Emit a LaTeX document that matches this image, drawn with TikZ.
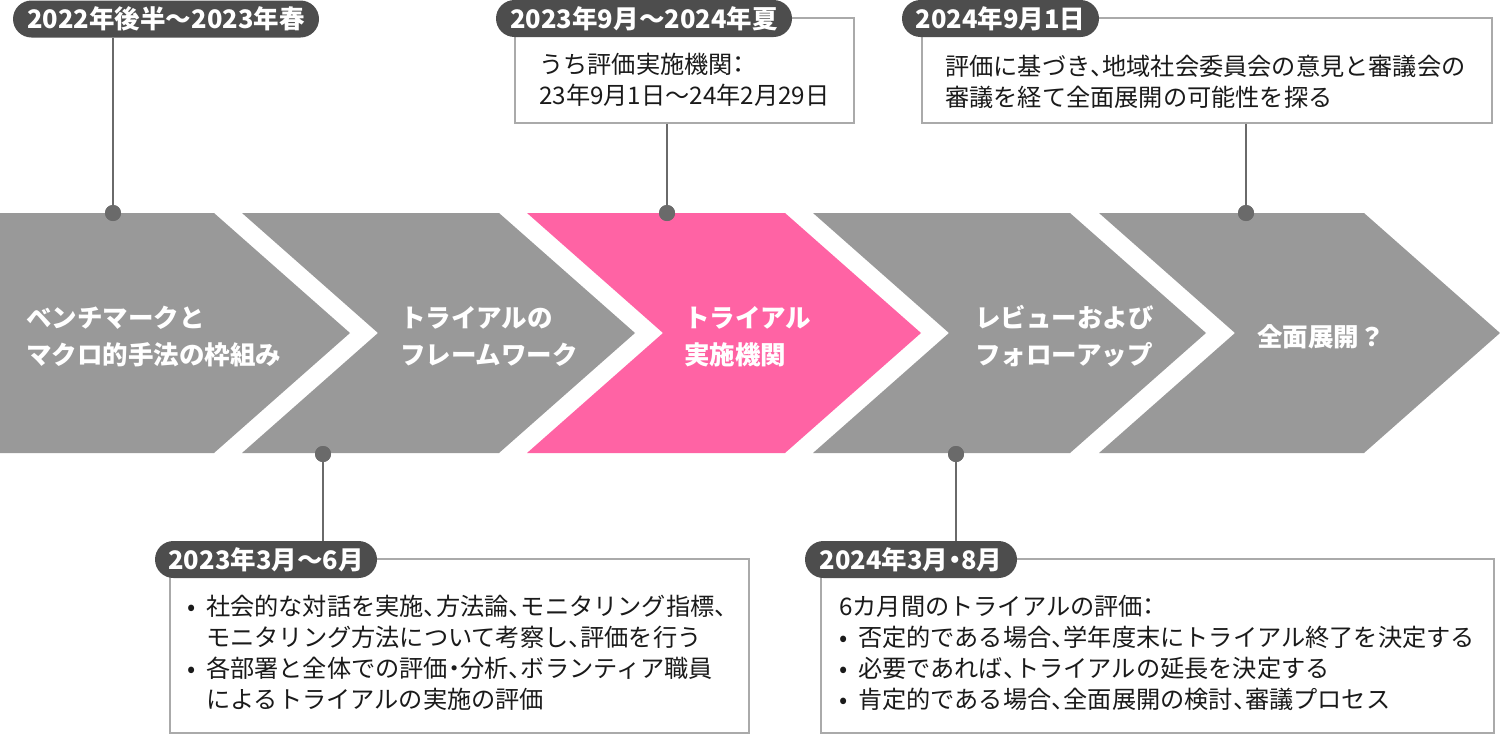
\documentclass[tikz,border=0pt]{standalone}
\usepackage{fontspec}
\setmainfont{Noto Sans CJK JP}
\newfontfamily\myHalt{Noto Sans CJK JP}[RawFeature=+halt]
\definecolor{chevgray}{HTML}{999999}
\definecolor{chevpink}{HTML}{FF63A4}
\definecolor{pilldark}{HTML}{4D4D4D}
\definecolor{dotgray}{HTML}{6A6A6A}
\definecolor{boxgray}{HTML}{AAAAAA}
\definecolor{textblack}{HTML}{1A1A1A}
\newcommand\myPillFont{\fontsize{25.5}{30}\selectfont\bfseries}
\newcommand\myBoxFont{\fontsize{24.2}{31}\selectfont}
\newcommand\myChevFont{\fontsize{25.5}{37}\selectfont\bfseries}
\newcommand\myBul{\makebox[19pt][l]{•}}
\newcommand\myInd{\hspace*{19pt}}
\newcommand\myTen{{\myHalt 、}}
\newcommand\myDot{{\myHalt ・}}
\newcommand\myCol{{\myHalt ：}}
\tikzset{
  chev/.style={fill=chevgray},
  chevhl/.style={fill=chevpink},
  dotnode/.style={circle, fill=dotgray, minimum size=16pt, inner sep=0pt},
  conn/.style={draw=dotgray, line width=2.2pt},
  pill/.style={fill=pilldark, rounded corners=18.5pt, minimum height=37pt, text=white, font=\myPillFont, inner sep=0pt},
  infobox/.style={draw=boxgray, line width=1.2pt, fill=white, inner sep=0pt},
  boxtext/.style={anchor=west, align=left, inner sep=0pt, font=\myBoxFont, text=textblack},
  chevtext/.style={anchor=west, align=left, inner sep=0pt, font=\myChevFont, text=white},
}
\begin{document}
\begin{tikzpicture}[x=1pt, y=-1pt]
\useasboundingbox (0,0) rectangle (1500,734);
% chevrons
\fill[chev] (0,213) -- (214,213) -- (350,333) -- (214,453) -- (0,453) -- cycle;
\fill[chev] (242,213) -- (499,213) -- (635,333) -- (499,453) -- (242,453) -- (378,333) -- cycle;
\fill[chevhl] (527,213) -- (785,213) -- (921,333) -- (785,453) -- (527,453) -- (663,333) -- cycle;
\fill[chev] (813,213) -- (1070,213) -- (1206,333) -- (1070,453) -- (813,453) -- (949,333) -- cycle;
\fill[chev] (1099,213) -- (1364,213) -- (1500,333) -- (1364,453) -- (1099,453) -- (1235,333) -- cycle;
% chevron texts
\node[chevtext] (t1) at (26,336.5) {ベンチマークと\\マクロ的手法の枠組み};
\node[chevtext] (t2) at (400,336.5) {トライアルの\\フレームワーク};
\node[chevtext] (t3) at (684,336.5) {トライアル\\実施機関};
\node[chevtext] (t4) at (975,336.5) {レビューおよび\\フォローアップ};
\node[chevtext] (t5) at (1257,337) {全面展開？};
% info boxes
\node[infobox, minimum width=339pt, minimum height=105pt] (b2) at (684.5,70.5) {};
\node[infobox, minimum width=570pt, minimum height=105pt] (b3) at (1207,70.5) {};
\node[infobox, minimum width=579pt, minimum height=174pt] (b4) at (459.5,646) {};
\node[infobox, minimum width=673pt, minimum height=174pt] (b5) at (1157.5,646) {};
\node[boxtext] (x2) at (539,80) {うち評価実施機関\myCol\\23年9月1日～24年2月29日};
\node[boxtext] (x3) at (945,82) {評価に基づき\myTen 地域社会委員会の意見と審議会の\\審議を経て全面展開の可能性を探る};
\node[boxtext] (x4) at (187,653) {\myBul 社会的な対話を実施\myTen 方法論\myTen モニタリング指標\myTen\\\myInd モニタリング方法について考察し\myTen 評価を行う\\\myBul 各部署と全体での評価\myDot 分析\myTen ボランティア職員\\\myInd によるトライアルの実施の評価};
\node[boxtext] (x5) at (839,652.5) {6カ月間のトライアルの評価\myCol\\\myBul 否定的である場合\myTen 学年度末にトライアル終了を決定する\\\myBul 必要であれば\myTen トライアルの延長を決定する\\\myBul 肯定的である場合\myTen 全面展開の検討\myTen 審議プロセス};
% pills
\node[pill, minimum width=306pt] (p1) at (166,19) {2022年後半～2023年春};
\node[pill, minimum width=296pt] (p2) at (644,18.5) {2023年9月～2024年夏};
\node[pill, minimum width=197pt] (p3) at (1000.5,18.5) {2024年9月1日};
\node[pill, minimum width=222pt] (p4) at (266,559.5) {2023年3月～6月};
\node[pill, minimum width=212pt] (p5) at (911,559.5) {2024年3月\myDot 8月};
% dots
\node[dotnode] (d1) at (113,213) {};
\node[dotnode] (d2) at (667,213) {};
\node[dotnode] (d3) at (1246,213) {};
\node[dotnode] (d4) at (323,454) {};
\node[dotnode] (d5) at (956,454) {};
% connectors
\draw[conn] (p1.south -| d1) -- (d1.center);
\draw[conn] (b2.south -| d2) -- (d2.center);
\draw[conn] (b3.south -| d3) -- (d3.center);
\draw[conn] (d4.center) -- (d4 |- p4.north);
\draw[conn] (d5.center) -- (d5 |- p5.north);
\node[dotnode] at (d1) {};
\node[dotnode] at (d2) {};
\node[dotnode] at (d3) {};
\node[dotnode] at (d4) {};
\node[dotnode] at (d5) {};
\end{tikzpicture}
\end{document}
